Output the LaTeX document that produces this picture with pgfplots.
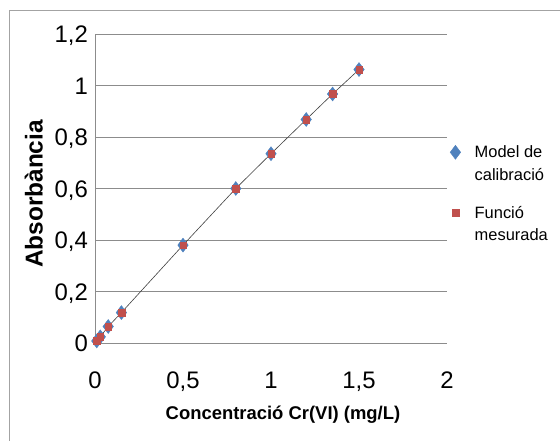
\documentclass[border=0pt]{standalone}
\usepackage{pgfplots}
\pgfplotsset{compat=1.18}
\usepackage{fontspec}
\setmainfont{Liberation Sans}

\definecolor{excelblue}{HTML}{4F81BD}
\definecolor{excelred}{HTML}{C0504D}
\definecolor{gridgray}{HTML}{8C8C8C}

\pgfplotstableread{
x y
0.010 0.008
0.030 0.024
0.075 0.064
0.150 0.118
0.500 0.380
0.800 0.600
1.000 0.735
1.200 0.868
1.350 0.967
1.500 1.062
}\calib

\begin{document}
\begin{tikzpicture}[x=1bp,y=1bp]
\path[use as bounding box] (0,0) rectangle (560,441);
\draw[gridgray!80,line width=0.8bp] (9,-5) -- (9,431) -- (570,431);
\begin{axis}[
    at={(95bp,98bp)}, anchor=south west,
    scale only axis, width=352bp, height=309bp,
    xmin=0, xmax=2, ymin=0, ymax=1.2,
    xtick={0,0.5,...,2}, ytick={0,0.2,...,1.2},
    axis x line*=bottom, axis y line*=left,
    axis line style={gridgray, line width=0.8bp, -},
    x axis line style={draw=none},
    ymajorgrids, grid style={gridgray, line width=0.8bp},
    major tick length=0pt,
    tick label style={font=\fontsize{24}{26}\selectfont, inner sep=0pt},
    /pgf/number format/.cd, use comma, fixed, assume math mode=true,
    /pgfplots/.cd,
    xticklabel style={anchor=base, yshift=-45.5bp},
    yticklabel style={anchor=base east, xshift=-7bp, yshift=-8.6bp},
    xlabel={\bfseries Concentració Cr(VI) (mg/L)},
    ylabel={\bfseries Absorbància},
    xlabel style={font=\fontsize{18.5}{21}\selectfont, at={(rel axis cs:0.534,-0.233)}, anchor=center},
    ylabel style={font=\fontsize{24.5}{27}\selectfont, at={(rel axis cs:-0.174,0.482)}, anchor=center},
    clip=false,
    legend style={draw=none, fill=none, at={(1.0,0.649)}, anchor=north west,
        font=\fontsize{16.5}{23}\selectfont, row sep=22bp, column sep=13bp,
        nodes={align=left, inner sep=1bp}},
    legend cell align=left,
    legend image post style={yshift=11.5bp},
]
\addplot[only marks, mark=diamond*, mark size=7bp, excelblue, mark options={fill=excelblue, draw=excelblue}] table {\calib};
\addlegendentry{Model de\\calibració}
\addplot[only marks, mark=square*, mark size=3.3bp, excelred, mark options={fill=excelred, draw=excelred}] table {\calib};
\addlegendentry{Funció\\mesurada}
\addplot[black!75, line width=0.6bp, forget plot] table {\calib};
\end{axis}
\end{tikzpicture}
\end{document}
